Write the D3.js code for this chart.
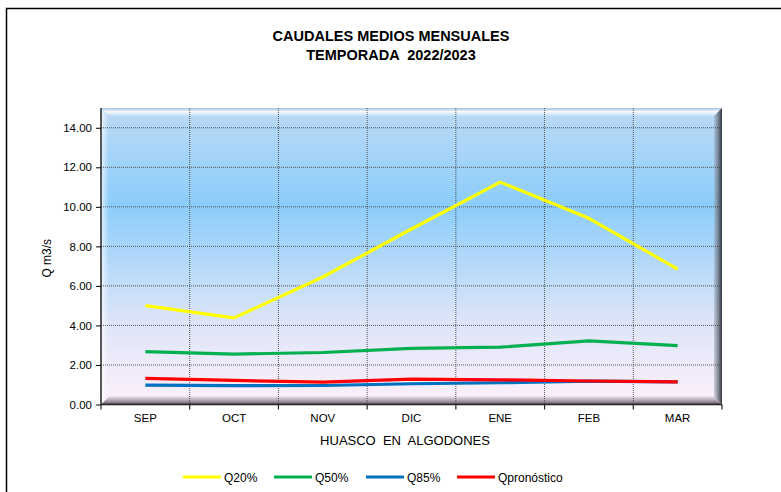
<!DOCTYPE html>
<html>
<head>
<meta charset="utf-8">
<script src="https://cdn.jsdelivr.net/npm/d3@7"></script>
<style>
  body { margin: 0; background: #fff; }
  text { font-family: "Liberation Sans", Arial, sans-serif; fill: #000; }
</style>
</head>
<body>
<div id="chart"></div>
<script>
const months = ['SEP', 'OCT', 'NOV', 'DIC', 'ENE', 'FEB', 'MAR'];
const q20 = [5.0, 4.38, 6.45, 8.88, 11.25, 9.42, 6.85];
const q50 = [2.67, 2.55, 2.63, 2.84, 2.9, 3.22, 2.98];
const q85 = [0.98, 0.95, 0.96, 1.05, 1.1, 1.18, 1.14];
const qpron = [1.32, 1.22, 1.13, 1.28, 1.25, 1.19, 1.14];
const yTicks = [0, 2, 4, 6, 8, 10, 12, 14];

const series = [
    { name: 'Q20%', values: q20, color: '#ffff00' },
    { name: 'Q50%', values: q50, color: '#00b050' },
    { name: 'Q85%', values: q85, color: '#0070c0' },
    { name: 'Qpronóstico', values: qpron, color: '#ff0000' }
];

const width = 781, height = 492;
const svg = d3.select('#chart').append('svg').attr('width', width).attr('height', height);

// outer frame
svg.append('rect').attr('x', 6.5).attr('y', 8.5).attr('width', 800).attr('height', 500)
    .attr('fill', 'none').attr('stroke', '#000').attr('stroke-width', 1.5);

const plot = { left: 101, right: 722, top: 108, bottom: 404.5 };

const x = d3.scaleBand().domain(months).range([plot.left, plot.right]);
const y = d3.scaleLinear().domain([0, 15]).range([plot.bottom, plot.top]);

const defs = svg.append('defs');
const bg = defs.append('linearGradient').attr('id', 'bg').attr('x1', 0).attr('y1', 0).attr('x2', 0).attr('y2', 1);
bg.append('stop').attr('offset', '0%').attr('stop-color', '#bcdaf6');
bg.append('stop').attr('offset', '33%').attr('stop-color', '#8ccdfa');
bg.append('stop').attr('offset', '72%').attr('stop-color', '#dde5f8');
bg.append('stop').attr('offset', '100%').attr('stop-color', '#fdf0fb');

svg.append('rect')
    .attr('x', plot.left).attr('y', plot.top)
    .attr('width', plot.right - plot.left).attr('height', plot.bottom - plot.top)
    .attr('fill', 'url(#bg)');

// bevel edges
const b = 8;
const L = plot.left, R = plot.right, T = plot.top, B = plot.bottom;
const topG = defs.append('linearGradient').attr('id', 'bt').attr('x1', 0).attr('y1', 0).attr('x2', 0).attr('y2', 1);
topG.append('stop').attr('offset', '0%').attr('stop-color', '#9fb8d0').attr('stop-opacity', 0.6);
topG.append('stop').attr('offset', '45%').attr('stop-color', '#ffffff').attr('stop-opacity', 0.9);
topG.append('stop').attr('offset', '100%').attr('stop-color', '#ffffff').attr('stop-opacity', 0.1);
const rightG = defs.append('linearGradient').attr('id', 'br').attr('x1', 0).attr('y1', 0).attr('x2', 1).attr('y2', 0);
rightG.append('stop').attr('offset', '0%').attr('stop-color', '#9aa7b8').attr('stop-opacity', 0.5);
rightG.append('stop').attr('offset', '100%').attr('stop-color', '#2f333c');
const botG = defs.append('linearGradient').attr('id', 'bb').attr('x1', 0).attr('y1', 0).attr('x2', 0).attr('y2', 1);
botG.append('stop').attr('offset', '0%').attr('stop-color', '#d8c8dc').attr('stop-opacity', 0.6);
botG.append('stop').attr('offset', '100%').attr('stop-color', '#5c5260');
const leftG = defs.append('linearGradient').attr('id', 'bl').attr('x1', 0).attr('y1', 0).attr('x2', 1).attr('y2', 0);
leftG.append('stop').attr('offset', '0%').attr('stop-color', '#ffffff').attr('stop-opacity', 0.7);
leftG.append('stop').attr('offset', '100%').attr('stop-color', '#ffffff').attr('stop-opacity', 0);

const poly = (pts, fill) => svg.append('polygon').attr('points', pts.map((p) => p.join(',')).join(' ')).attr('fill', fill);
poly([[L, T], [R, T], [R - b, T + b], [L + b, T + b]], 'url(#bt)');
poly([[L, T], [L + b, T + b], [L + b, B - b], [L, B]], 'url(#bl)');
poly([[R, T], [R, B], [R - b, B - b], [R - b, T + b]], 'url(#br)');
poly([[L, B], [R, B], [R - b, B - b], [L + b, B - b]], 'url(#bb)');

// gridlines
svg.append('g').selectAll('line').data(yTicks.filter((d) => d > 0)).enter().append('line')
    .attr('x1', L).attr('x2', R - 2).attr('y1', (d) => y(d)).attr('y2', (d) => y(d))
    .attr('stroke', '#444').attr('stroke-width', 0.9).attr('stroke-dasharray', '1,1');
svg.append('g').selectAll('line').data(months.slice(1)).enter().append('line')
    .attr('x1', (d) => x(d)).attr('x2', (d) => x(d)).attr('y1', T).attr('y2', B)
    .attr('stroke', '#444').attr('stroke-width', 0.9).attr('stroke-dasharray', '1,1');

// axes
const yAxis = d3.axisLeft(y).tickValues(yTicks).tickFormat(d3.format('.2f')).tickSize(5).tickPadding(4);
const gy = svg.append('g').attr('transform', `translate(${L},0)`).call(yAxis);
gy.select('.domain').attr('d', `M0,${T}V${B}`).attr('stroke', '#222').attr('stroke-width', 1.5);
gy.selectAll('text').style('font-size', '11.5px').attr('fill', '#000');

const xAxis = d3.axisBottom(x).tickSize(0).tickPadding(9);
const gx = svg.append('g').attr('transform', `translate(0,${B})`).call(xAxis);
gx.select('.domain').attr('d', `M${L},0H${R}`).attr('stroke', '#222').attr('stroke-width', 1.5);
gx.selectAll('text').style('font-size', '11.5px').attr('fill', '#000');
gx.append('g').selectAll('line').data(months.map((m) => x(m)).concat([R])).enter().append('line')
    .attr('x1', (d) => d).attr('x2', (d) => d).attr('y1', 0).attr('y2', 5)
    .attr('stroke', '#222').attr('stroke-width', 1.2);

// lines
const line = d3.line().x((d, i) => x(months[i]) + x.bandwidth() / 2).y((d) => y(d));
svg.append('g').selectAll('path').data(series).enter().append('path')
    .attr('d', (d) => line(d.values))
    .attr('fill', 'none').attr('stroke', (d) => d.color)
    .attr('stroke-width', 3.2).attr('stroke-linejoin', 'round');

// titles
svg.append('text').attr('x', 391).attr('y', 41).attr('text-anchor', 'middle')
    .style('font-size', '14.5px').style('font-weight', 'bold').text('CAUDALES MEDIOS MENSUALES');
svg.append('text').attr('x', 391).attr('y', 60).attr('text-anchor', 'middle')
    .style('font-size', '14.5px').style('font-weight', 'bold').style('white-space', 'pre').text('TEMPORADA  2022/2023');
svg.append('text').attr('transform', `translate(51,${(T + B) / 2 + 2}) rotate(-90)`).attr('text-anchor', 'middle')
    .style('font-size', '12px').text('Q m3/s');
svg.append('text').attr('x', 405).attr('y', 445).attr('text-anchor', 'middle')
    .style('font-size', '13px').style('white-space', 'pre').text('HUASCO  EN  ALGODONES');

// legend
const legendX = [183, 274, 366, 457];
const lg = svg.append('g').selectAll('g').data(series).enter().append('g')
    .attr('transform', (d, i) => `translate(${legendX[i]},477)`);
lg.append('line').attr('x1', 0).attr('x2', 38).attr('stroke', (d) => d.color).attr('stroke-width', 3.2);
lg.append('text').attr('x', 41).attr('y', 4.5).style('font-size', '12px').text((d) => d.name);
</script>
</body>
</html>
